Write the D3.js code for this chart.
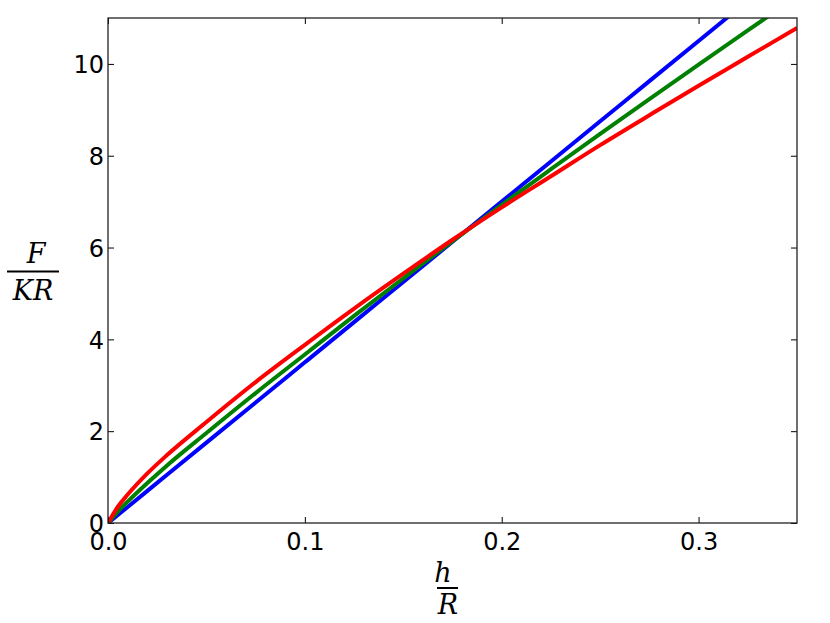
<!DOCTYPE html>
<html>
<head>
<meta charset="utf-8">
<script src="https://cdn.jsdelivr.net/npm/d3@7"></script>
<style>
  html, body { margin: 0; padding: 0; background: #fff; }
  svg { display: block; }
  .tick text { font-family: "DejaVu Sans", sans-serif; font-size: 24px; fill: #000; }
  .math { font-family: "DejaVu Serif", "Liberation Serif", serif; font-style: italic; font-size: 27px; fill: #000; }
</style>
</head>
<body>
<svg id="chart" width="830" height="623"></svg>
<script>
// ---- data ----
const hR = [0, 0.005, 0.01, 0.02, 0.03, 0.05, 0.075, 0.1, 0.125, 0.15, 0.175, 0.2, 0.225, 0.25, 0.275, 0.3, 0.325, 0.35];
const blueF = [0, 0.175, 0.35, 0.7, 1.05, 1.75, 2.625, 3.5, 4.375, 5.25, 6.125, 7.0, 7.875, 8.75, 9.625, 10.5, 11.375, 12.25];
const greenF = [0, 0.25, 0.466, 0.87, 1.254, 1.96, 2.83, 3.67, 4.51, 5.33, 6.14, 6.931, 7.706, 8.474, 9.235, 9.984, 10.73, 11.47];
const redF = [0, 0.354, 0.619, 1.08, 1.48, 2.2, 3.07, 3.88, 4.67, 5.43, 6.17, 6.876, 7.553, 8.231, 8.882, 9.526, 10.155, 10.784];
const xTicks = [0.0, 0.1, 0.2, 0.3];
const yTicks = [0, 2, 4, 6, 8, 10];
const seriesColors = ["#0000ff", "#008000", "#ff0000"];

const svg = d3.select("#chart");
const L = 108, R = 797, T = 18, B = 523;
const x = d3.scaleLinear().domain([0, 0.35]).range([L, R]);
const y = d3.scaleLinear().domain([0, 11]).range([B, T]);

svg.append("defs").append("clipPath").attr("id", "clip")
  .append("rect").attr("x", L).attr("y", T).attr("width", R - L).attr("height", B - T);

const line = d3.line().curve(d3.curveMonotoneX).x(d => x(d[0])).y(d => y(d[1]));
const series = [blueF, greenF, redF];
const g = svg.append("g").attr("clip-path", "url(#clip)");
series.forEach((s, i) => {
  g.append("path")
    .datum(hR.map((v, j) => [v, s[j]]))
    .attr("d", line)
    .attr("fill", "none")
    .attr("stroke", seriesColors[i])
    .attr("stroke-width", 4)
    .attr("stroke-linejoin", "round");
});

// axes
const xAxis = d3.axisBottom(x).tickValues(xTicks).tickFormat(d3.format(".1f")).tickSizeInner(-6).tickSizeOuter(0).tickPadding(10);
const yAxis = d3.axisLeft(y).tickValues(yTicks).tickFormat(d3.format("d")).tickSizeInner(-6).tickSizeOuter(0).tickPadding(4);
const xTop = d3.axisTop(x).tickValues(xTicks).tickFormat("").tickSizeInner(-6).tickSizeOuter(0);
const yRight = d3.axisRight(y).tickValues(yTicks).tickFormat("").tickSizeInner(-6).tickSizeOuter(0);

function style(sel) {
  sel.select(".domain").remove();
  sel.selectAll(".tick line").attr("stroke", "#000").attr("stroke-width", 1);
}
svg.append("g").attr("transform", `translate(0,${B})`).call(xAxis).call(style)
  .selectAll(".tick text").attr("dy", "0.71em");
svg.append("g").attr("transform", `translate(${L},0)`).call(yAxis).call(style)
  .selectAll(".tick text").attr("dy", "0.36em");
svg.append("g").attr("transform", `translate(0,${T})`).call(xTop).call(style);
svg.append("g").attr("transform", `translate(${R},0)`).call(yRight).call(style);

svg.selectAll(".tick text").attr("font-family", null).attr("font-size", null);

// frame
svg.append("rect").attr("x", L).attr("y", T).attr("width", R - L).attr("height", B - T)
  .attr("fill", "none").attr("stroke", "#222").attr("stroke-width", 1.3);

// y label F / KR
svg.append("text").attr("class", "math").attr("x", 36).attr("y", 263).attr("text-anchor", "middle").text("F");
svg.append("line").attr("x1", 7).attr("x2", 59).attr("y1", 271.5).attr("y2", 271.5).attr("stroke", "#000").attr("stroke-width", 2);
svg.append("text").attr("class", "math").attr("x", 33).attr("y", 300).attr("text-anchor", "middle").text("KR");

// x label h / R
svg.append("text").attr("class", "math").attr("x", 443).attr("y", 582).attr("text-anchor", "middle").text("h");
svg.append("line").attr("x1", 437).attr("x2", 458).attr("y1", 588).attr("y2", 588).attr("stroke", "#000").attr("stroke-width", 2);
svg.append("text").attr("class", "math").attr("x", 448).attr("y", 614).attr("text-anchor", "middle").text("R");
</script>
</body>
</html>
